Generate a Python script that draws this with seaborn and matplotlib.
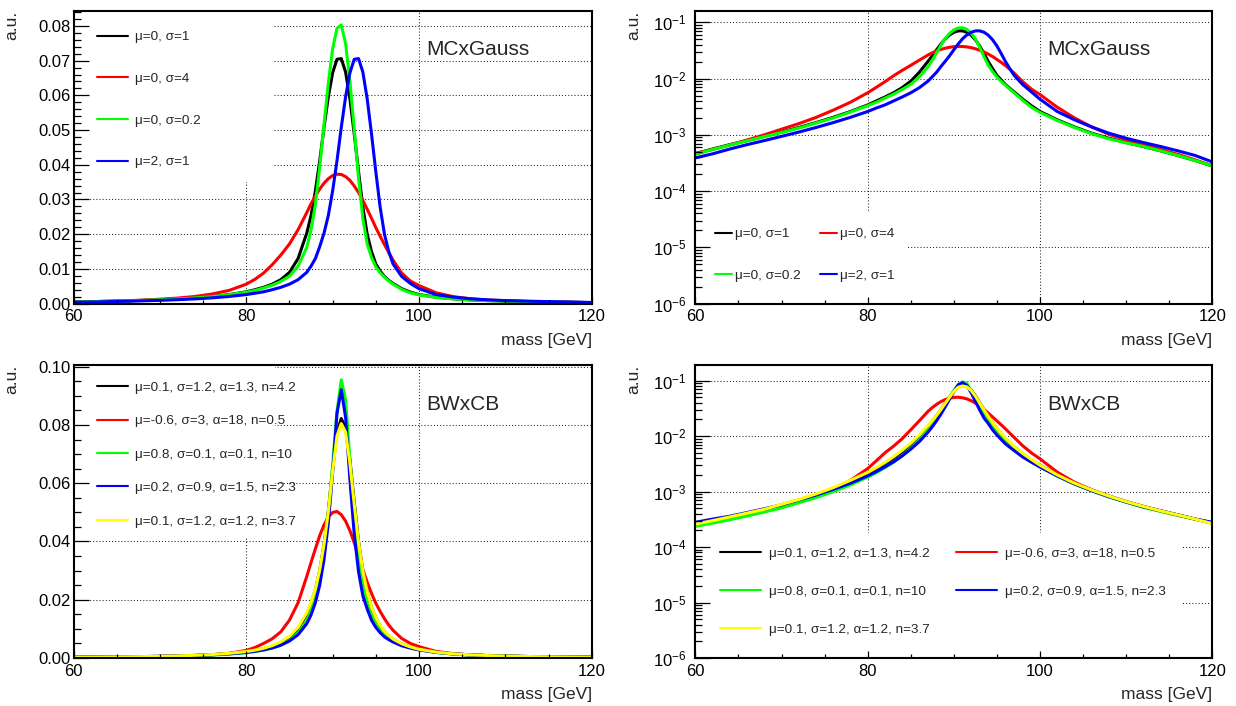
import numpy as np
import pandas as pd
import matplotlib
matplotlib.use("Agg")
import matplotlib.pyplot as plt
import matplotlib.ticker as mticker
from matplotlib.lines import Line2D
from matplotlib.patches import Rectangle
import seaborn as sns

# ---------------- data ----------------
mass = [60, 62, 64, 66, 68, 70, 72, 74, 76, 78, 80, 81, 82, 83, 84, 85, 86, 87,
        87.5, 88, 88.5, 89, 89.5, 90, 90.5, 91, 91.5, 92, 92.5, 93, 93.5, 94,
        94.5, 95, 95.5, 96, 96.5, 97, 98, 99, 100, 102, 104, 106, 108, 110, 112, 114, 116,
        118, 120]

# MC x Gauss
mcg_labels = ["μ=0, σ=1", "μ=0, σ=4", "μ=0, σ=0.2", "μ=2, σ=1"]
mcg_colors = ["#000000", "#ff0000", "#00ff00", "#0000ff"]
mcg_mu0_s1 = [0.00046, 0.00056, 0.00067, 0.00079, 0.00094, 0.00112, 0.00135, 0.00165, 0.00205, 0.00260,
              0.00340, 0.00400, 0.00470, 0.00560, 0.00690, 0.00900, 0.01300, 0.02030,
              0.02540, 0.03250, 0.04110, 0.05080, 0.05960, 0.06650, 0.07040, 0.07060, 0.06670, 0.05900,
              0.04890, 0.03800, 0.02780, 0.02000, 0.01500, 0.01140, 0.00940, 0.00780, 0.00670, 0.00580,
              0.00430, 0.00330,
              0.00260, 0.00185, 0.00138, 0.00107, 0.00087, 0.00073, 0.00062, 0.00052, 0.00043, 0.00035, 0.00028]
mcg_mu0_s4 = [0.00047, 0.00055, 0.00066, 0.00081, 0.00100, 0.00126, 0.00158, 0.00204, 0.00275, 0.00380,
              0.00560, 0.00700, 0.00880, 0.01120, 0.01400, 0.01720, 0.02130, 0.02620,
              0.02880, 0.03100, 0.03300, 0.03470, 0.03600, 0.03690, 0.03730, 0.03720, 0.03660, 0.03550,
              0.03390, 0.03200, 0.02970, 0.02720, 0.02460, 0.02190, 0.01940, 0.01700, 0.01470, 0.01250,
              0.00880, 0.00650,
              0.00520, 0.00310, 0.00200, 0.00138, 0.00102, 0.00082, 0.00067, 0.00055, 0.00045, 0.00036, 0.00028]
mcg_mu0_s02 = [0.00045, 0.00055, 0.00066, 0.00078, 0.00093, 0.00110, 0.00132, 0.00162, 0.00200, 0.00255,
               0.00330, 0.00380, 0.00450, 0.00530, 0.00640, 0.00790, 0.01080, 0.01620,
               0.02120, 0.02860, 0.03930, 0.05160, 0.06360, 0.07340, 0.07930, 0.08030, 0.07490, 0.06410,
               0.05030, 0.03620, 0.02450, 0.01720, 0.01330, 0.01060, 0.00890, 0.00760, 0.00650, 0.00560,
               0.00410, 0.00310,
               0.00250, 0.00180, 0.00135, 0.00105, 0.00085, 0.00072, 0.00062, 0.00052, 0.00043, 0.00035, 0.00028]
mcg_mu2_s1 = [0.00039, 0.00046, 0.00056, 0.00067, 0.00079, 0.00094, 0.00112, 0.00135, 0.00165, 0.00205,
              0.00260, 0.00300, 0.00340, 0.00400, 0.00470, 0.00560, 0.00690, 0.00900,
              0.01080, 0.01300, 0.01640, 0.02030, 0.02540, 0.03250, 0.04110, 0.05080, 0.05960, 0.06650,
              0.07040, 0.07060, 0.06670, 0.05900, 0.04890, 0.03800, 0.02780, 0.02000, 0.01500, 0.01140,
              0.00780, 0.00580,
              0.00430, 0.00260, 0.00185, 0.00138, 0.00107, 0.00087, 0.00073, 0.00062, 0.00052, 0.00043, 0.00033]

# BW x CB
bwcb_labels = ["μ=0.1, σ=1.2, α=1.3, n=4.2", "μ=-0.6, σ=3, α=18, n=0.5",
               "μ=0.8, σ=0.1, α=0.1, n=10", "μ=0.2, σ=0.9, α=1.5, n=2.3",
               "μ=0.1, σ=1.2, α=1.2, n=3.7"]
bwcb_colors = ["#000000", "#ff0000", "#00ff00", "#0000ff", "#ffff00"]
bwcb_black = [0.00025, 0.00029, 0.00034, 0.00040, 0.00047, 0.00057, 0.00070, 0.00088, 0.00114, 0.00155,
              0.00215, 0.00260, 0.00320, 0.00400, 0.00520, 0.00700, 0.01000, 0.01500,
              0.01870, 0.02350, 0.03000, 0.03900, 0.05050, 0.06500, 0.07750, 0.08220, 0.07900, 0.06800,
              0.05350, 0.04000, 0.02980, 0.02250, 0.01730, 0.01370, 0.01100, 0.00900, 0.00760, 0.00640,
              0.00480, 0.00370,
              0.00300, 0.00200, 0.00142, 0.00107, 0.00083, 0.00066, 0.00054, 0.00045, 0.00038, 0.00032, 0.00027]
bwcb_red = [0.00025, 0.00029, 0.00033, 0.00038, 0.00045, 0.00054, 0.00067, 0.00084, 0.00110, 0.00160,
            0.00260, 0.00360, 0.00500, 0.00660, 0.00900, 0.01300, 0.01900, 0.02800,
            0.03280, 0.03750, 0.04200, 0.04570, 0.04840, 0.05000, 0.05030, 0.04920, 0.04700, 0.04370,
            0.03960, 0.03490, 0.03030, 0.02600, 0.02220, 0.01880, 0.01600, 0.01350, 0.01130, 0.00950,
            0.00670, 0.00500,
            0.00390, 0.00225, 0.00148, 0.00108, 0.00083, 0.00066, 0.00054, 0.00045, 0.00038, 0.00032, 0.00027]
bwcb_green = [0.000237, 0.000271, 0.000312, 0.000364, 0.00043, 0.00051, 0.00063, 0.00078, 0.00100, 0.00132,
              0.00183, 0.00220, 0.00270, 0.00338, 0.00441, 0.00602, 0.00858, 0.01266,
              0.01610, 0.02060, 0.02750, 0.03660, 0.04940, 0.06630, 0.08460, 0.09550, 0.08860, 0.06780,
              0.04790, 0.03370, 0.02430, 0.01850, 0.01460, 0.01164, 0.00950, 0.00791, 0.00670, 0.00582,
              0.00432, 0.00345,
              0.00282, 0.00190, 0.00136, 0.00103, 0.00080, 0.00064, 0.00052, 0.00044, 0.00037, 0.00032, 0.000275]
bwcb_blue = [0.00028, 0.00032, 0.00036, 0.00042, 0.00049, 0.00058, 0.00071, 0.00087, 0.00110, 0.00142,
             0.00192, 0.00230, 0.00280, 0.00345, 0.00440, 0.00583, 0.00800, 0.01180,
             0.01480, 0.01900, 0.02500, 0.03380, 0.04640, 0.06360, 0.08400, 0.09210, 0.08260, 0.06120,
             0.04250, 0.02960, 0.02130, 0.01686, 0.01297, 0.01050, 0.00870, 0.00726, 0.00630, 0.00549,
             0.00420, 0.00340,
             0.00278, 0.00192, 0.00138, 0.00104, 0.00081, 0.00065, 0.00053, 0.00045, 0.00038, 0.00032, 0.00028]
bwcb_yellow = [0.00026, 0.00030, 0.00035, 0.00041, 0.00048, 0.00059, 0.00072, 0.00091, 0.00118, 0.00160,
               0.00222, 0.00270, 0.00335, 0.00425, 0.00555, 0.00745, 0.01050, 0.01550,
               0.01910, 0.02380, 0.03020, 0.03900, 0.05020, 0.06420, 0.07620, 0.08050, 0.07750, 0.06680,
               0.05280, 0.03980, 0.02980, 0.02260, 0.01750, 0.01390, 0.01120, 0.00920, 0.00780, 0.00650,
               0.00490, 0.00380,
               0.00300, 0.00200, 0.00142, 0.00107, 0.00083, 0.00066, 0.00054, 0.00045, 0.00038, 0.00032, 0.000265]

mcg_series = [mcg_mu0_s1, mcg_mu0_s4, mcg_mu0_s02, mcg_mu2_s1]
bwcb_series = [bwcb_black, bwcb_red, bwcb_green, bwcb_blue, bwcb_yellow]

# ---------------- style ----------------
sns.set_style("white")
plt.rcParams["font.family"] = ["Liberation Sans", "DejaVu Sans"]
plt.rcParams["mathtext.fontset"] = "custom"
plt.rcParams["mathtext.rm"] = "Liberation Sans"
plt.rcParams["mathtext.it"] = "Liberation Sans:italic"
plt.rcParams["mathtext.bf"] = "Liberation Sans:bold"

W, H = 1236, 706
fig = plt.figure(figsize=(W / 100, H / 100), dpi=100)
fig.patch.set_facecolor("white")

def frac_rect(x0, x1, ytop, ybot):
    return [x0 / W, (H - ybot) / H, (x1 - x0) / W, (ybot - ytop) / H]

pos_tl = frac_rect(73.6, 591.7, 10.7, 303.6)
pos_tr = frac_rect(695.4, 1212.3, 10.7, 303.6)
pos_bl = frac_rect(73.6, 591.7, 365.0, 658.0)
pos_br = frac_rect(695.4, 1212.3, 365.0, 658.0)

grid_style = dict(color="black", linestyle=(0, (1, 2)), linewidth=0.75, alpha=0.85)


def set_locators(a, log, ymajor, yminor):
    a.set_xlim(60, 120)
    a.xaxis.set_major_locator(mticker.MultipleLocator(20))
    a.xaxis.set_minor_locator(mticker.MultipleLocator(5))
    if log:
        a.set_yscale("log")
        a.yaxis.set_major_locator(mticker.LogLocator(base=10, numticks=20))
        a.yaxis.set_minor_locator(mticker.LogLocator(base=10, subs=np.arange(2, 10), numticks=20))
        a.yaxis.set_minor_formatter(mticker.NullFormatter())
    else:
        a.yaxis.set_major_locator(mticker.MultipleLocator(ymajor))
        a.yaxis.set_minor_locator(mticker.MultipleLocator(yminor))
        a.yaxis.set_major_formatter(mticker.FormatStrFormatter("%.2f"))


def panel(pos, labels, colors, series, log, ylim, ymajor, yminor, name, cover, leg_kw, order):
    # grid axes (behind)
    gax = fig.add_axes(pos, zorder=0)
    set_locators(gax, log, ymajor, yminor)
    gax.set_ylim(*ylim)
    gax.grid(True, which="major", **grid_style)
    gax.tick_params(which="both", length=0, labelbottom=False, labelleft=False)
    for s in gax.spines.values():
        s.set_visible(False)

    ax = fig.add_axes(pos, zorder=1)
    ax.patch.set_alpha(0)
    n = len(mass)
    df = pd.DataFrame({
        "mass": np.tile(np.array(mass, dtype=float), len(series)),
        "value": np.concatenate([np.array(s, dtype=float) for s in series]),
        "model": np.repeat(labels, n),
    })
    sns.lineplot(data=df, x="mass", y="value", hue="model", hue_order=labels,
                 palette=dict(zip(labels, colors)), estimator=None, sort=False,
                 linewidth=2.2, legend=False, ax=ax)
    set_locators(ax, log, ymajor, yminor)
    ax.set_ylim(*ylim)
    ax.set_axisbelow(False)

    # white box of the legend hiding the grid
    ax.add_patch(Rectangle((cover[0], cover[1]), cover[2], cover[3], transform=ax.transAxes,
                           facecolor="white", edgecolor="none", zorder=0.8))

    for s in ax.spines.values():
        s.set_linewidth(1.5)
        s.set_color("black")
    ax.tick_params(which="both", direction="in", bottom=True, left=True, top=False, right=False,
                   colors="black")
    ax.tick_params(axis="x", which="major", length=5, width=0.9, labelsize=12, pad=4)
    ax.tick_params(axis="x", which="minor", length=3, width=0.9)
    ax.tick_params(axis="y", which="major", length=10.5, width=0.9, labelsize=12,
                   pad=6.2 if log else 2)
    ax.tick_params(axis="y", which="minor", length=5.3, width=0.9)

    ax.set_ylabel("a.u.", fontsize=12.5, loc="top")
    ax.yaxis.set_label_coords(-0.104, 1.0)
    ax.set_xlabel("mass [GeV]", fontsize=12.5, loc="right")
    ax.xaxis.set_label_coords(1.0, -0.099)

    ax.text(0.681, 0.866, name, transform=ax.transAxes, fontsize=15, ha="left", va="center")

    handles = [Line2D([], [], color=colors[i], lw=1.5) for i in order]
    labs = [labels[i] for i in order]
    leg = ax.legend(handles, labs, frameon=False, fontsize=9.7, borderpad=0,
                    borderaxespad=0, loc="center left", **leg_kw)
    leg.set_zorder(5)
    return ax


panel(pos_tl, mcg_labels, mcg_colors, mcg_series, False, (0, 0.0844), 0.01, 0.002,
      "MCxGauss", (0, 0.415, 0.385, 0.585),
      dict(bbox_to_anchor=(0.0446, 0.696), handlelength=2.35, handletextpad=0.5,
           labelspacing=2.17, ncol=1), [0, 1, 2, 3])

panel(pos_tr, mcg_labels, mcg_colors, mcg_series, True, (1e-6, 0.161), None, None,
      "MCxGauss", (0, 0, 0.409, 0.309),
      dict(bbox_to_anchor=(0.0379, 0.166), handlelength=1.24, handletextpad=0.25,
           labelspacing=2.15, columnspacing=1.43, ncol=2), [0, 2, 1, 3])

panel(pos_bl, bwcb_labels, bwcb_colors, bwcb_series, False, (0, 0.1006), 0.02, 0.005,
      "BWxCB", (0, 0.413, 0.389, 0.587),
      dict(bbox_to_anchor=(0.0446, 0.6945), handlelength=2.35, handletextpad=0.5,
           labelspacing=1.56, ncol=1), [0, 1, 2, 3, 4])

panel(pos_br, bwcb_labels, bwcb_colors, bwcb_series, True, (1e-6, 0.192), None, None,
      "BWxCB", (0, 0, 0.943, 0.427),
      dict(bbox_to_anchor=(0.0476, 0.226), handlelength=3.02, handletextpad=0.64,
           labelspacing=1.91, columnspacing=1.93, ncol=2), [0, 2, 4, 1, 3])

fig.savefig("out.png", dpi=100, facecolor="white")
